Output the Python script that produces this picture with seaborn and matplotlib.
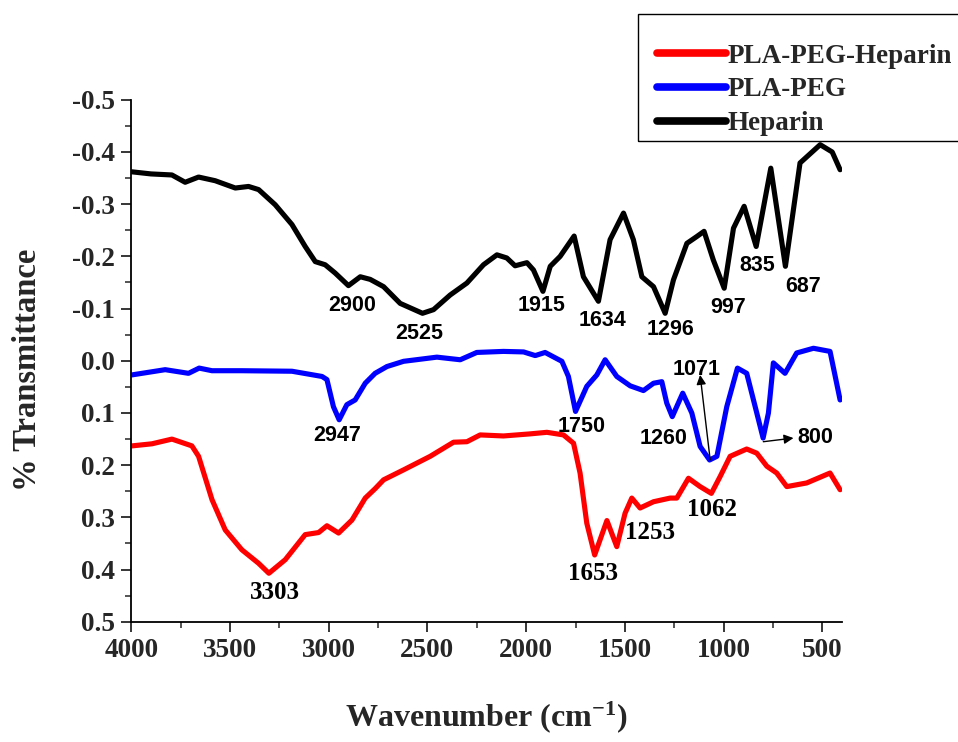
import numpy as np
import pandas as pd
import matplotlib
matplotlib.use("Agg")
import matplotlib.pyplot as plt
import seaborn as sns
from matplotlib.ticker import MultipleLocator
from matplotlib.patches import Rectangle

# ---------------- data ----------------
heparin_wn = [3996, 3900, 3794, 3727, 3659, 3575, 3473, 3406, 3355, 3271, 3186, 3119, 3068, 3018,
              2967, 2900, 2840, 2790, 2722, 2638, 2525, 2469, 2385, 2300, 2216, 2148, 2098, 2056,
              1996, 1963, 1915, 1878, 1828, 1757, 1710, 1634, 1575, 1507, 1457, 1414, 1355, 1296,
              1254, 1186, 1136, 1099, 1052, 997, 950, 896, 835, 761, 687, 613, 511, 450, 410]
heparin_val = [-0.362, -0.358, -0.356, -0.342, -0.352, -0.345, -0.331, -0.334, -0.328, -0.299,
               -0.261, -0.219, -0.190, -0.184, -0.168, -0.144, -0.161, -0.156, -0.142, -0.110,
               -0.091, -0.098, -0.126, -0.149, -0.184, -0.203, -0.197, -0.182, -0.188, -0.174,
               -0.133, -0.181, -0.200, -0.239, -0.161, -0.114, -0.232, -0.283, -0.232, -0.161,
               -0.142, -0.091, -0.155, -0.225, -0.238, -0.248, -0.193, -0.139, -0.254, -0.296,
               -0.219, -0.369, -0.181, -0.379, -0.414, -0.400, -0.366]

plapeg_wn = [3996, 3828, 3710, 3656, 3591, 3440, 3186, 3034, 3009, 2976, 2947, 2908, 2866, 2815,
             2765, 2705, 2621, 2452, 2334, 2250, 2115, 2013, 1954, 1904, 1819, 1786, 1750, 1693,
             1642, 1600, 1541, 1473, 1406, 1355, 1313, 1288, 1260, 1207, 1161, 1119, 1071, 1034,
             984, 930, 883, 832, 800, 773, 748, 689, 630, 545, 461, 410]
plapeg_val = [0.027, 0.017, 0.024, 0.014, 0.019, 0.019, 0.020, 0.030, 0.036, 0.088, 0.113, 0.084,
              0.075, 0.043, 0.024, 0.011, 0.001, -0.007, -0.002, -0.016, -0.018, -0.017, -0.010,
              -0.016, 0.001, 0.030, 0.097, 0.049, 0.027, -0.002, 0.030, 0.048, 0.057, 0.043, 0.040,
              0.081, 0.107, 0.062, 0.100, 0.164, 0.190, 0.183, 0.088, 0.014, 0.024, 0.100, 0.148,
              0.100, 0.004, 0.024, -0.015, -0.024, -0.018, 0.075]

plapeghep_wn = [3996, 3895, 3794, 3693, 3659, 3591, 3524, 3440, 3355, 3303, 3220, 3119, 3051, 3009,
                2950, 2882, 2815, 2765, 2722, 2621, 2486, 2368, 2300, 2233, 2115, 1980, 1895, 1811,
                1760, 1727, 1693, 1653, 1591, 1541, 1499, 1465, 1423, 1355, 1271, 1237, 1178, 1119,
                1062, 1018, 967, 883, 832, 781, 731, 680, 579, 461, 410]
plapeghep_val = [0.163, 0.159, 0.150, 0.163, 0.183, 0.266, 0.324, 0.362, 0.388, 0.407, 0.381, 0.333,
                 0.329, 0.316, 0.330, 0.305, 0.263, 0.245, 0.228, 0.209, 0.183, 0.156, 0.155, 0.142,
                 0.144, 0.140, 0.137, 0.142, 0.158, 0.215, 0.311, 0.372, 0.306, 0.356, 0.292, 0.263,
                 0.282, 0.270, 0.263, 0.263, 0.225, 0.241, 0.254, 0.222, 0.183, 0.169, 0.177, 0.202,
                 0.215, 0.241, 0.234, 0.215, 0.247]

series_names = ["PLA-PEG-Heparin", "PLA-PEG", "Heparin"]
series_colors = ["#ff0000", "#0000ff", "#000000"]

# peak labels: (text, x, y)
black_labels = [("2900", 2882, -0.106), ("2525", 2540, -0.052), ("1915", 1920, -0.106),
                ("1634", 1615, -0.077), ("1296", 1271, -0.059), ("997", 975, -0.103),
                ("835", 832, -0.182), ("687", 597, -0.142)]
blue_labels = [("2947", 2958, 0.144), ("1750", 1718, 0.126), ("1260", 1306, 0.148),
               ("1071", 1136, 0.016), ("800", 537, 0.146)]
red_labels = [("3303", 3271, 0.444), ("1653", 1659, 0.407), ("1253", 1372, 0.329),
              ("1062", 1060, 0.285)]
arrows = [((1068, 0.190), (1119, 0.027)), ((799, 0.155), (646, 0.148))]

x_ticks = [4000, 3500, 3000, 2500, 2000, 1500, 1000, 500]
y_ticks = [-0.5, -0.4, -0.3, -0.2, -0.1, 0.0, 0.1, 0.2, 0.3, 0.4, 0.5]

# ---------------- build table ----------------
frames = []
for name, wn, val in [("PLA-PEG-Heparin", plapeghep_wn, plapeghep_val),
                      ("PLA-PEG", plapeg_wn, plapeg_val),
                      ("Heparin", heparin_wn, heparin_val)]:
    frames.append(pd.DataFrame({"wn": wn, "val": val, "series": name}))
df = pd.concat(frames, ignore_index=True)

sns.set_style("ticks")
plt.rcParams["font.family"] = ["Liberation Serif", "DejaVu Serif"]
plt.rcParams["font.weight"] = "bold"
plt.rcParams["mathtext.default"] = "regular"

fig = plt.figure(figsize=(9.58, 7.42), dpi=100)
ax = fig.add_axes([0.137, 0.162, 0.742, 0.7035])

sns.lineplot(data=df, x="wn", y="val", hue="series", hue_order=series_names,
             palette=dict(zip(series_names, series_colors)), sort=False,
             estimator=None, linewidth=3.7, ax=ax, legend=True)
for ln in ax.get_lines():
    ln.set_solid_joinstyle("round")
    ln.set_solid_capstyle("round")

ax.set_xlim(4000, 400)
ax.set_ylim(0.5, -0.5)
ax.set_xticks(x_ticks)
ax.set_yticks(y_ticks)
ax.set_yticklabels([f"{v:.1f}" for v in y_ticks])
ax.xaxis.set_minor_locator(MultipleLocator(250))
ax.yaxis.set_minor_locator(MultipleLocator(0.05))
ax.tick_params(axis="both", which="major", direction="out", length=7, width=1.3,
               labelsize=19.5, pad=5)
ax.tick_params(axis="both", which="minor", direction="out", length=4, width=1.1)
for lab in ax.get_xticklabels() + ax.get_yticklabels():
    lab.set_fontweight("bold")
for side in ["top", "right"]:
    ax.spines[side].set_visible(False)
for side in ["left", "bottom"]:
    ax.spines[side].set_linewidth(1.3)
    ax.spines[side].set_color("black")

ax.set_xlabel("Wavenumber (cm$^{-1}$)", fontsize=23, fontweight="bold", labelpad=26)
ax.set_ylabel("% Transmittance", fontsize=23.5, fontweight="bold")
ax.yaxis.set_label_coords(-0.124, 0.483)

sans = ["Liberation Sans", "DejaVu Sans"]
for t, x, y in black_labels:
    ax.text(x, y, t, ha="center", va="center", fontsize=15.5, fontweight="bold",
            family=sans, color="black")
for t, x, y in blue_labels:
    ax.text(x, y, t, ha="center", va="center", fontsize=15.5, fontweight="bold",
            family=sans, color="black")
for t, x, y in red_labels:
    ax.text(x, y, t, ha="center", va="center", fontsize=18, fontweight="bold",
            family=["Liberation Serif"], color="black")
for (x0, y0), (x1, y1) in arrows:
    ax.annotate("", xy=(x1, y1), xytext=(x0, y0),
                arrowprops=dict(arrowstyle="-|>", color="black", lw=1.0,
                                mutation_scale=14, shrinkA=0, shrinkB=0))

handles, labels = ax.get_legend_handles_labels()
ax.get_legend().remove()
leg = fig.legend(handles, labels, loc="center left",
                 bbox_to_anchor=(657 / 958, 1 - 90 / 742),
                 bbox_transform=fig.transFigure, frameon=False,
                 prop={"family": "Liberation Serif", "weight": "bold", "size": 19.5},
                 handlelength=2.55, handletextpad=0.05, labelspacing=0.33,
                 borderpad=0, borderaxespad=0)
for ln in leg.get_lines():
    ln.set_linewidth(5.5)
    ln.set_solid_capstyle("round")
fig.add_artist(Rectangle((638 / 958, 1 - 141 / 742), (990 - 638) / 958, 127 / 742,
                         transform=fig.transFigure, fill=False, edgecolor="black",
                         linewidth=1.0, clip_on=False))

fig.savefig("out.png", dpi=100)
